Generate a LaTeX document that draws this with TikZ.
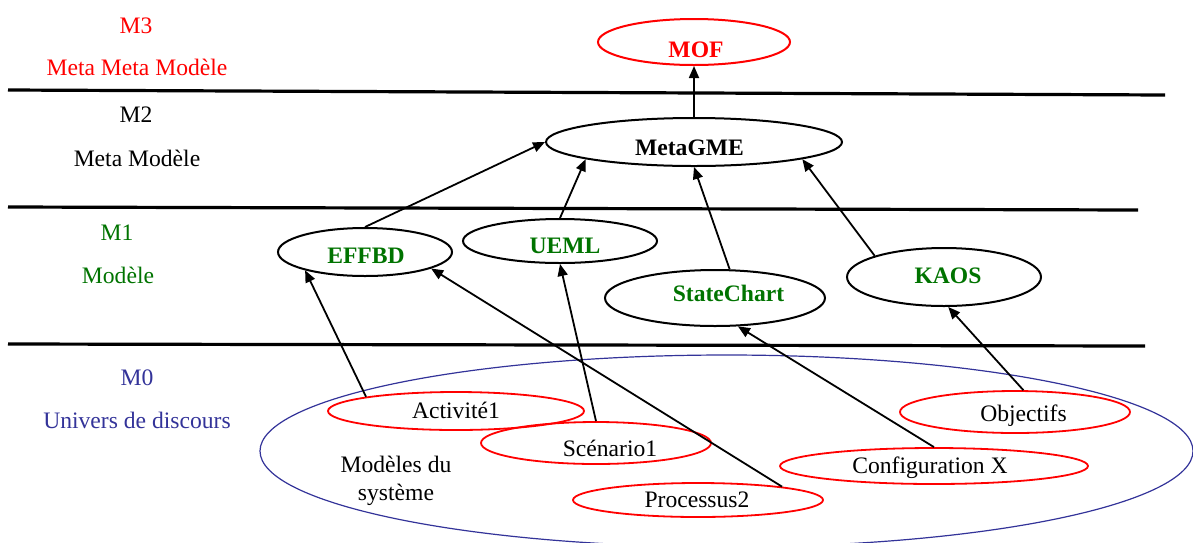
\documentclass[tikz,border=0pt]{standalone}
\usepackage{fontspec}
\setmainfont{Liberation Serif}
\usepackage{xcolor}
\usepackage{tikz}
\usetikzlibrary{arrows.meta,shapes.geometric}
\definecolor{mofred}{RGB}{255,0,0}
\definecolor{modelgreen}{RGB}{0,115,0}
\definecolor{universblue}{RGB}{51,51,153}
\newcommand{\levelfont}{\fontsize{11.8}{14}\selectfont}
\tikzset{
  levelline/.style={line width=1.6pt,draw=black},
  leveltext/.style={anchor=base,inner sep=0pt,font=\levelfont},
  metabox/.style={ellipse,draw=black,line width=1pt,inner sep=0pt},
  instancebox/.style={ellipse,draw=mofred,line width=0.9pt,inner sep=0pt},
  boxtext/.style={font=\levelfont\bfseries,text height=7.8pt,text depth=0pt,inner sep=0pt},
  instancetext/.style={font=\levelfont,text height=7.8pt,text depth=0pt,inner sep=0pt},
  modelarrow/.style={-{Triangle[length=6pt,width=5pt]},line width=0.9pt}
}
\begin{document}
\begin{tikzpicture}[x=0.5pt,y=-0.5pt]
  \useasboundingbox (0,0) rectangle (1193,542);
  % separations entre niveaux
  \draw[levelline] (8,90) -- (1165,95);
  \draw[levelline] (8,207) -- (1138,210);
  \draw[levelline] (8,344) -- (1145,346);
  % noms des niveaux
  \node[leveltext,text=mofred] (m3) at (136,33) {M3};
  \node[leveltext,text=mofred] (m3name) at (137,75) {Meta Meta Modèle};
  \node[leveltext] (m2) at (136,122) {M2};
  \node[leveltext] (m2name) at (137,166) {Meta Modèle};
  \node[leveltext,text=modelgreen] (m1) at (117,240) {M1};
  \node[leveltext,text=modelgreen] (m1name) at (118,283) {Modèle};
  \node[leveltext,text=universblue] (m0) at (137,385) {M0};
  \node[leveltext,text=universblue] (m0name) at (137,428) {Univers de discours};
  % univers de discours
  \node[ellipse,draw=universblue,line width=0.6pt,minimum width=466.5pt,minimum height=96pt] (univers) at (726.5,451) {};
  \node[font=\levelfont,align=center,inner sep=0pt] (systeme) at (396,481) {Modèles du\\système};
  \node[instancebox,minimum width=128pt,minimum height=19pt,label={[instancetext]center:Activité1}] (act) at (456,411) {};
  \node[instancebox,minimum width=115pt,minimum height=21pt,label={[instancetext,xshift=7pt,yshift=-2.75pt]center:Scénario1}] (scen) at (596,443) {};
  \node[instancebox,minimum width=125pt,minimum height=17pt,label={[instancetext,xshift=-0.5pt]center:Processus2}] (proc) at (698,500) {};
  \node[instancebox,minimum width=115pt,minimum height=21pt,label={[instancetext,xshift=4.25pt,yshift=-1pt]center:Objectifs}] (obj) at (1015,412) {};
  \node[instancebox,minimum width=154pt,minimum height=18pt,label={[instancetext,xshift=-2pt]center:Configuration X}] (config) at (934,466) {};
  % modeles et meta modeles
  \node[metabox,draw=mofred,minimum width=96pt,minimum height=23pt,label={[boxtext,text=mofred,xshift=1pt,yshift=-3.75pt]center:MOF}] (mof) at (694,42) {};
  \node[metabox,minimum width=148pt,minimum height=24pt,label={[boxtext,xshift=-2.25pt,yshift=-2.75pt]center:MetaGME}] (metagme) at (694,142) {};
  \node[metabox,minimum width=87pt,minimum height=24pt,label={[boxtext,text=modelgreen,xshift=0.5pt,yshift=-2pt]center:EFFBD}] (effbd) at (365,252) {};
  \node[metabox,minimum width=97pt,minimum height=22pt,label={[boxtext,text=modelgreen,xshift=2.5pt,yshift=-2.25pt]center:UEML}] (ueml) at (560,241) {};
  \node[metabox,minimum width=110pt,minimum height=28pt,label={[boxtext,text=modelgreen,xshift=6.75pt,yshift=2pt]center:StateChart}] (statechart) at (715,298) {};
  \node[metabox,minimum width=97pt,minimum height=29pt,label={[boxtext,text=modelgreen,xshift=2pt,yshift=0.5pt]center:KAOS}] (kaos) at (944,277) {};
  % conformite
  \draw[modelarrow] (metagme.north) -- (mof.south);
  \draw[modelarrow] (effbd.north) -- (metagme.west);
  \draw[modelarrow] (ueml.north) -- (metagme.189);
  \draw[modelarrow] (statechart.63) -- (metagme.south);
  \draw[modelarrow] (kaos.163) -- (metagme.351);
  \draw[modelarrow] (act.171) -- (effbd.197);
  \draw[modelarrow] (proc.9) -- (effbd.346);
  \draw[modelarrow] (scen.north) -- (ueml.south);
  \draw[modelarrow] (config.north) -- (statechart.309);
  \draw[modelarrow] (obj.69) -- (kaos.278);
\end{tikzpicture}
\end{document}
